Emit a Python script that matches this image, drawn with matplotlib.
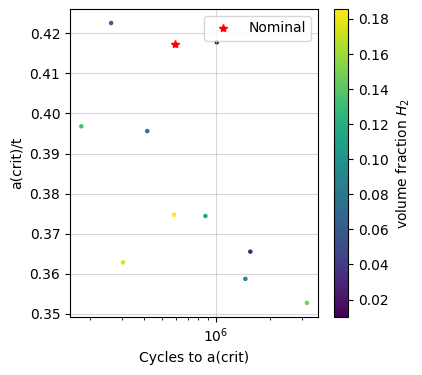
import matplotlib
matplotlib.use('Agg')
import matplotlib.pyplot as plt

# ========== Data ==========
cycles = [2.62e5, 1.013e6, 1.79e5, 4.16e5, 5.86e5, 8.76e5, 1.556e6, 3.05e5, 1.46e6, 3.21e6]
a_crit = [0.4226, 0.4178, 0.3968, 0.3956, 0.3747, 0.3744, 0.3655, 0.3628, 0.3587, 0.3527]
h2_frac = [0.062, 0.0101, 0.133, 0.080, 0.1857, 0.115, 0.028, 0.177, 0.089, 0.150]

nominal_cycles = [5.91e5]
nominal_a_crit = [0.4173]

# ========== Plot ==========
fig = plt.figure(figsize=(4.22, 3.75), dpi=100)
ax = fig.add_axes([0.166, 0.155, 0.588, 0.821])
cax = fig.add_axes([0.791, 0.155, 0.034, 0.821])

sc = ax.scatter(cycles, a_crit, c=h2_frac, cmap='viridis', s=5)
ax.plot(nominal_cycles, nominal_a_crit, 'r*', label='Nominal')
ax.set_xscale('log')
ax.set_xlabel('Cycles to a(crit)')
ax.set_ylabel('a(crit)/t')
ax.grid(True, alpha=0.5)
ax.legend(loc='upper right')

cb = fig.colorbar(sc, cax=cax)
cb.set_label('volume fraction $H_2$')

plt.savefig('out.png')
